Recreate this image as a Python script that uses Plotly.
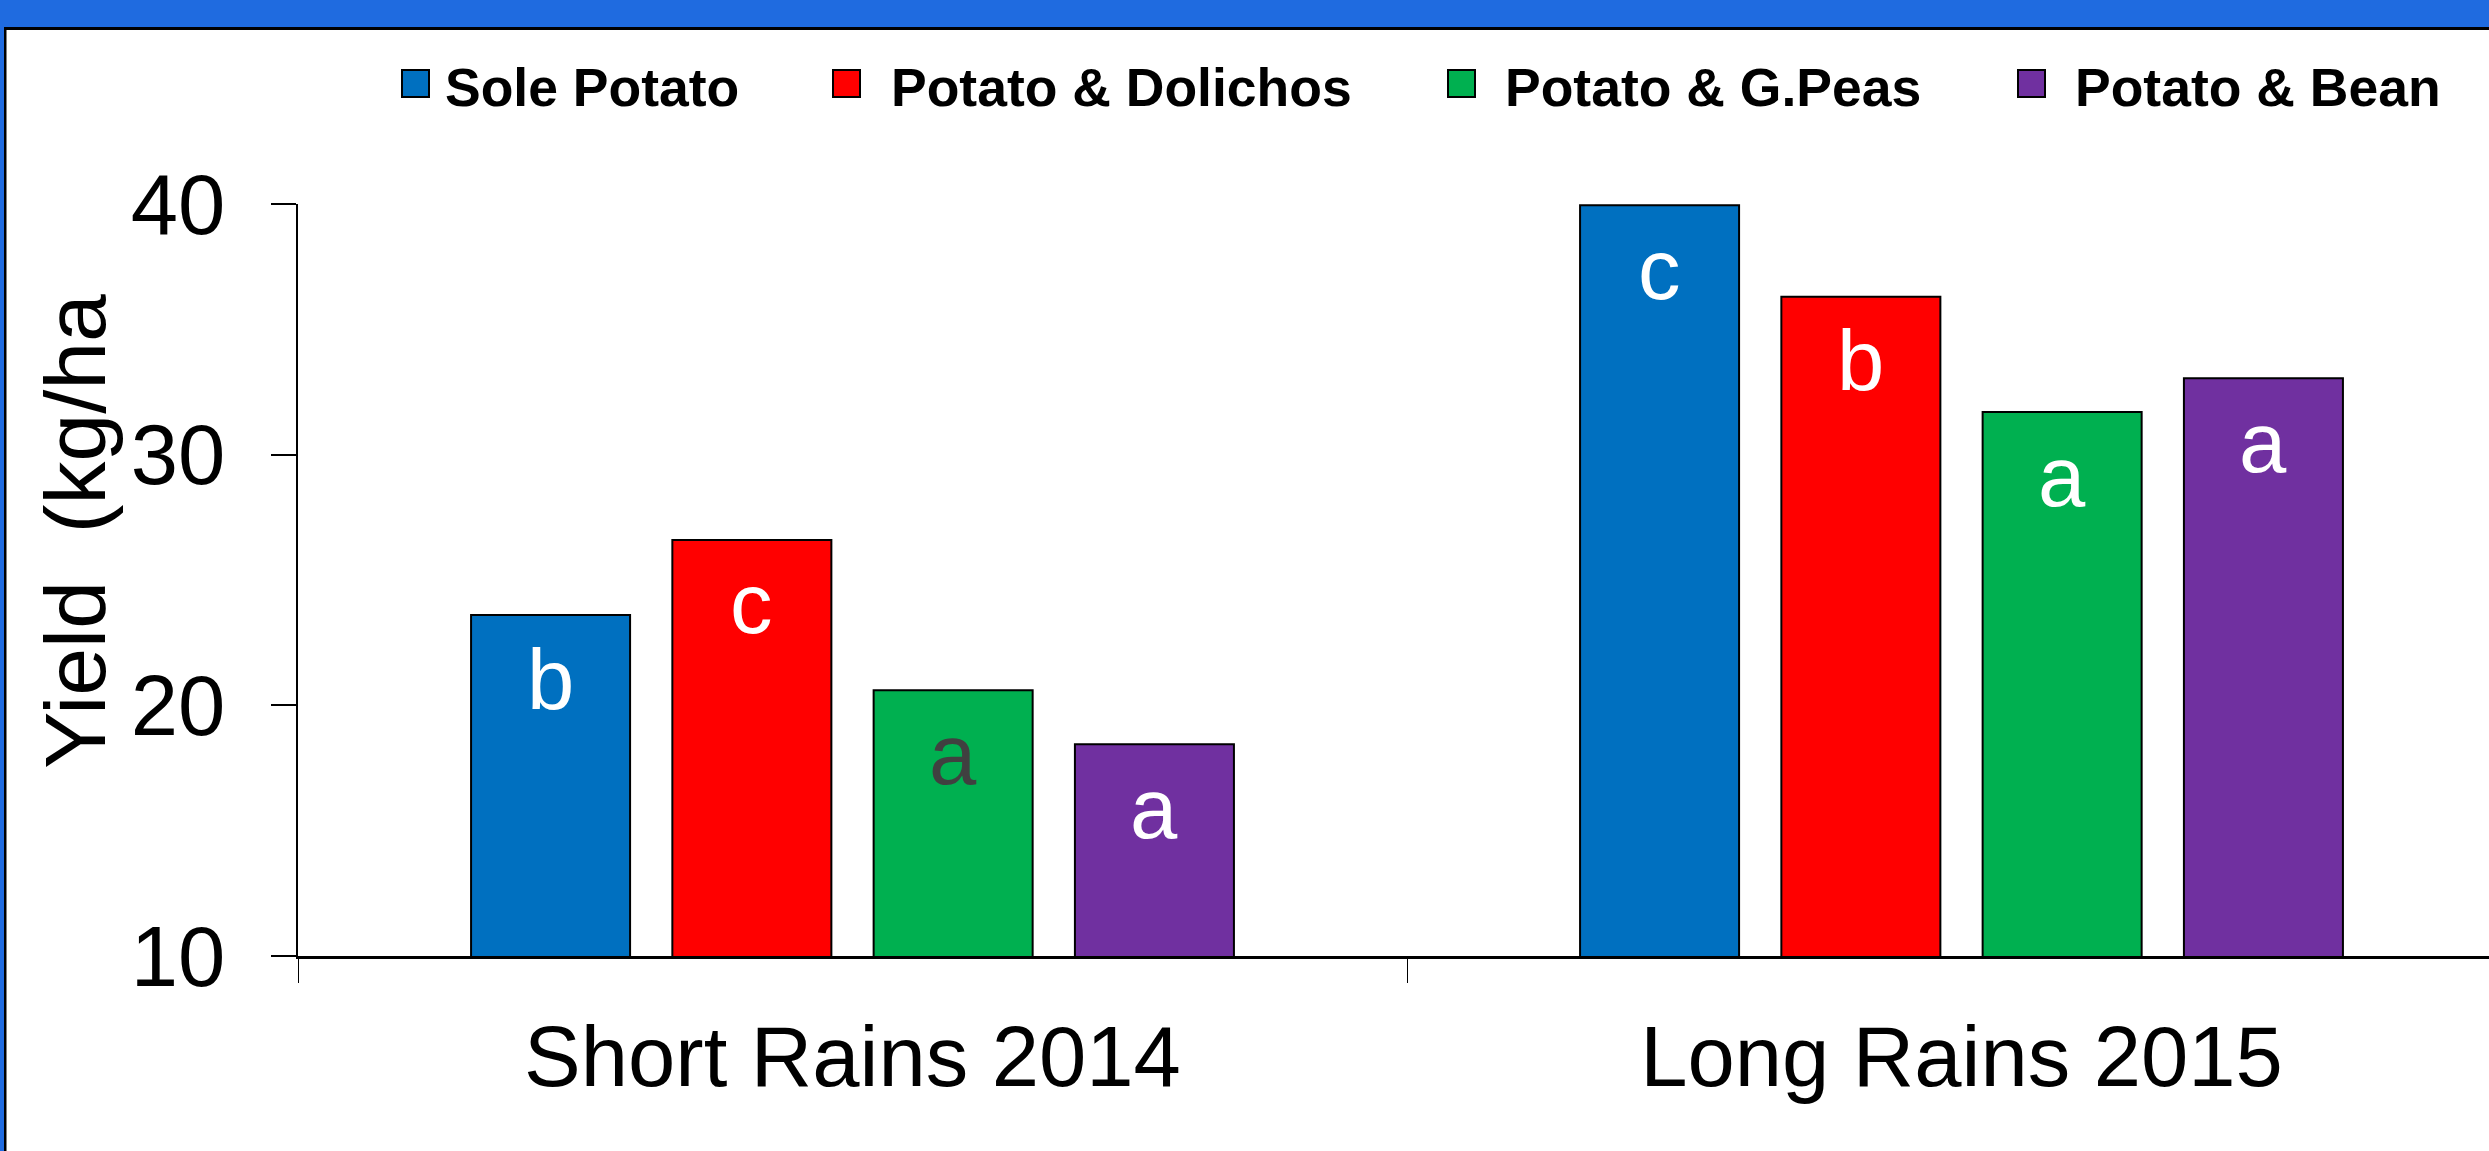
import plotly.graph_objects as go

# ---- data ----
seasons = ["Short Rains 2014", "Long Rains 2015"]
series_names = ["Sole Potato", "Potato & Dolichos", "Potato & G.Peas", "Potato & Bean"]
sole_potato = [23.6, 39.95]
potato_dolichos = [26.6, 36.3]
potato_gpeas = [20.6, 31.7]
potato_bean = [18.45, 33.05]
letters_sole = ["b", "c"]
letters_dolichos = ["c", "b"]
letters_gpeas = ["a", "a"]
letters_bean = ["a", "a"]
y_ticks = [10, 20, 30, 40]

values = [sole_potato, potato_dolichos, potato_gpeas, potato_bean]
letters = [letters_sole, letters_dolichos, letters_gpeas, letters_bean]
colors = ["#0070C0", "#FF0000", "#00B050", "#7030A0"]
letter_colors = [["white", "white"], ["white", "white"], ["#404040", "white"], ["white", "white"]]

# ---- geometry (pixels) ----
W, H = 2489, 1151
ML, MR, MT, MB = 298, 0, 204, 195
PW, PH = W - ML - MR, H - MT - MB
CAT_PX = 1109
BARGAP = 0.274
BARGROUPGAP = 0.21
FONT = "Arial, Liberation Sans, sans-serif"

def px_x(p):
    return (p - ML) / PW

def px_y(p):
    return (H - MB - p) / PH

fig = go.Figure()
for name, vals, col in zip(series_names, values, colors):
    fig.add_trace(go.Bar(
        x=seasons, y=vals, name=name, marker_color=col,
        marker_line_color="black", marker_line_width=2, showlegend=False,
    ))

# letters on bars
n = len(series_names)
slot = (1 - BARGAP) / n
annotations = []
for i in range(n):
    for j in range(len(seasons)):
        annotations.append(dict(
            x=j + (i - (n - 1) / 2) * slot, y=values[i][j], xref="x", yref="y",
            text=letters[i][j], showarrow=False, yanchor="middle", xanchor="center",
            yshift=-64, font=dict(family=FONT, size=85, color=letter_colors[i][j]),
        ))

# y-axis title
annotations.append(dict(
    x=px_x(75), y=px_y(532), xref="paper", yref="paper", text="Yield  (kg/ha",
    textangle=-90, showarrow=False, xanchor="center", yanchor="middle",
    font=dict(family=FONT, size=86, color="black"),
))

# legend (top row)
sq_left = [402, 833, 1448, 2018]
txt_left = [443, 889, 1503, 2073]
shapes = []
for name, col, sx, tx in zip(series_names, colors, sq_left, txt_left):
    shapes.append(dict(type="rect", xref="paper", yref="paper",
                       x0=px_x(sx), x1=px_x(sx + 27), y0=px_y(97), y1=px_y(70),
                       fillcolor=col, line=dict(color="black", width=2)))
    annotations.append(dict(
        x=px_x(tx), y=px_y(87), xref="paper", yref="paper", text="<b>%s</b>" % name,
        showarrow=False, xanchor="left", yanchor="middle",
        font=dict(family=FONT, size=53.5, color="black"),
    ))

# slide frame: blue band at top and left, black border of white panel
BLUE = "#1F6BE0"
shapes += [
    dict(type="rect", xref="paper", yref="paper", x0=px_x(0), x1=px_x(W), y0=px_y(27), y1=px_y(0),
         fillcolor=BLUE, line=dict(width=0), layer="above"),
    dict(type="rect", xref="paper", yref="paper", x0=px_x(0), x1=px_x(4), y0=px_y(H), y1=px_y(0),
         fillcolor=BLUE, line=dict(width=0), layer="above"),
    dict(type="rect", xref="paper", yref="paper", x0=px_x(4), x1=px_x(W), y0=px_y(30), y1=px_y(27),
         fillcolor="black", line=dict(width=0), layer="above"),
    dict(type="rect", xref="paper", yref="paper", x0=px_x(4), x1=px_x(6.5), y0=px_y(H), y1=px_y(27),
         fillcolor="black", line=dict(width=0), layer="above"),
]

fig.update_layout(
    width=W, height=H, autosize=False,
    margin=dict(l=ML, r=MR, t=MT, b=MB, pad=0),
    paper_bgcolor="white", plot_bgcolor="white",
    barmode="group", bargap=BARGAP, bargroupgap=BARGROUPGAP,
    showlegend=False,
    annotations=annotations, shapes=shapes,
    xaxis=dict(
        type="category", range=[-0.5, -0.5 + PW / CAT_PX],
        tickson="boundaries", ticks="outside", ticklen=24, tickwidth=1.2, tickcolor="black",
        showline=True, linecolor="black", linewidth=2.5, showgrid=False, zeroline=False,
        tickfont=dict(family=FONT, size=85, color="black"), ticklabelstandoff=25,
    ),
    yaxis=dict(
        range=[10, 40], tickvals=y_ticks, ticks="outside", ticklen=25, tickwidth=1.5,
        tickcolor="black", showline=True, linecolor="black", linewidth=1.5,
        showgrid=False, zeroline=False,
        tickfont=dict(family=FONT, size=85, color="black"), ticklabelstandoff=29,
    ),
)

fig.write_html("out.html")
